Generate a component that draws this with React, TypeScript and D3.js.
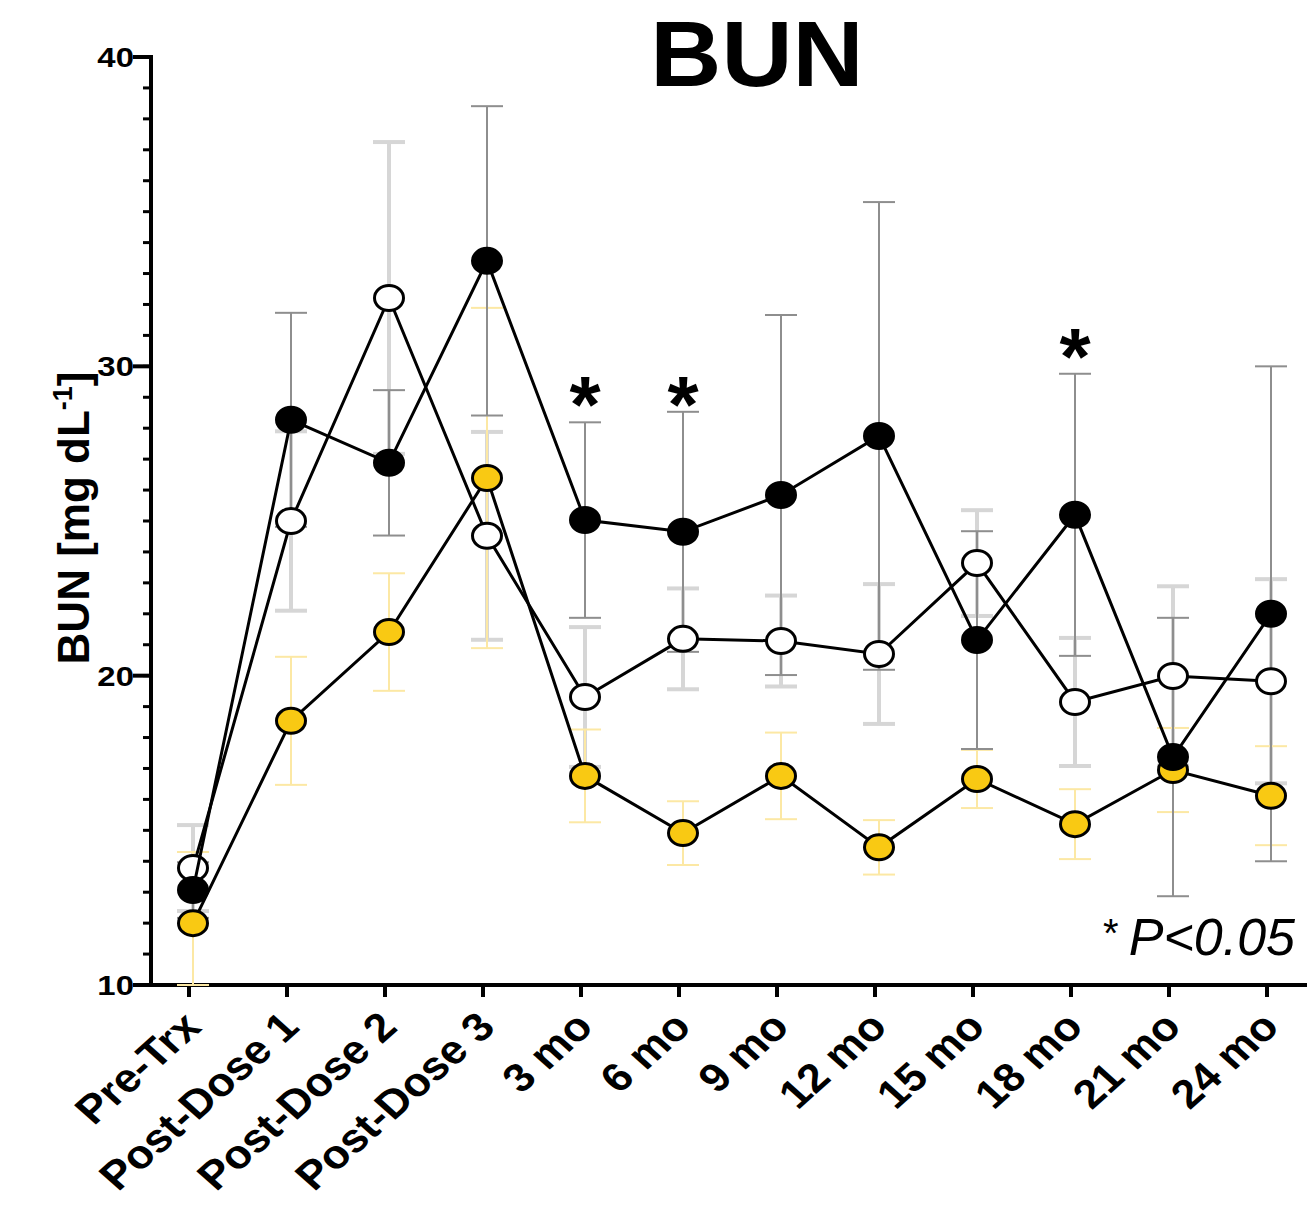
import React from 'react';
import * as d3 from 'd3';

// time points on the x axis
const categories = [
  'Pre-Trx', 'Post-Dose 1', 'Post-Dose 2', 'Post-Dose 3',
  '3 mo', '6 mo', '9 mo', '12 mo', '15 mo', '18 mo', '21 mo', '24 mo',
];

// filled black circles
const blackMean = [13.07, 28.27, 26.88, 33.41, 25.03, 24.65, 25.84, 27.75, 21.15, 25.2, 17.37, 22.0];
const blackSD = [0.9, 3.46, 2.35, 5.0, 3.16, 3.88, 5.82, 7.56, 3.52, 4.56, 4.5, 8.0];

// open circles
const whiteMean = [13.78, 25.0, 32.21, 24.52, 19.31, 21.19, 21.12, 20.7, 23.64, 19.15, 19.99, 19.82];
const whiteSD = [1.39, 2.9, 5.04, 3.36, 2.26, 1.63, 1.47, 2.26, 1.71, 2.07, 2.9, 3.3];

// yellow circles
const yellowMean = [12.0, 18.54, 21.41, 26.39, 16.76, 14.91, 16.76, 14.45, 16.66, 15.2, 16.95, 16.12];
const yellowSD = [2.3, 2.07, 1.9, 5.5, 1.5, 1.03, 1.4, 0.88, 0.94, 1.13, 1.36, 1.6];

// significance stars (category, level of the star's bottom)
const starCats = ['3 mo', '6 mo', '18 mo'];
const starLevels = [28.85, 28.85, 30.4];

const yMajor = [10, 20, 30, 40];

const FONT = "'Liberation Sans', Arial, Helvetica, sans-serif";

export default function App() {
  const x = d3.scalePoint<string>().domain(categories).range([193, 1271]);
  const y = d3.scaleLinear().domain([10, 40]).range([985, 57]);
  const yMinor = d3.range(10, 41, 1);

  const line = d3.line<number>()
    .x((_, i) => x(categories[i]) as number)
    .y((d) => y(d));

  const errSeries = [
    { mean: whiteMean, sd: whiteSD, color: '#d6d6d6', w: 4 },
    { mean: yellowMean, sd: yellowSD, color: '#fce8a4', w: 2 },
    { mean: blackMean, sd: blackSD, color: '#8e8e8e', w: 2 },
  ];
  const dotSeries = [
    { mean: yellowMean, fill: '#f9c913' },
    { mean: whiteMean, fill: '#ffffff' },
    { mean: blackMean, fill: '#000000' },
  ];

  const axisX = 151;
  const baseY = y(10);
  const capHalf = 16;

  return (
    <svg width={1307} height={1206} style={{ position: 'absolute', left: 0, top: 0, background: '#fff' }} fontFamily={FONT}>
      {/* title */}
      <text transform="translate(757,86) scale(1.07,1)" textAnchor="middle" fontSize={92} fontWeight="bold">BUN</text>

      {/* y axis */}
      <line x1={axisX} x2={axisX} y1={y(40) - 2} y2={baseY + 2} stroke="#000" strokeWidth={4} />
      {yMinor.map((t) => (
        <line key={'mi' + t} x1={axisX - 8} x2={axisX} y1={y(t)} y2={y(t)} stroke="#000" strokeWidth={3} />
      ))}
      {yMajor.map((t) => (
        <g key={'ma' + t}>
          <line x1={axisX - 18} x2={axisX} y1={y(t)} y2={y(t)} stroke="#000" strokeWidth={4} />
          <text transform={`translate(134,${y(t) + 10}) scale(1.22,1)`} textAnchor="end" fontSize={27} fontWeight="bold">{t}</text>
        </g>
      ))}
      <text transform={`translate(89,518) rotate(-90)`} textAnchor="middle" fontSize={44} fontWeight="bold">
        BUN [mg dL<tspan dy={-17} fontSize={27}>-1</tspan><tspan dy={17}>]</tspan>
      </text>

      {/* x axis */}
      <line x1={axisX - 2} x2={1307} y1={baseY} y2={baseY} stroke="#000" strokeWidth={4} />
      {categories.map((c) => (
        <g key={'xt' + c}>
          <line x1={(x(c) as number) - 4} x2={(x(c) as number) - 4} y1={baseY} y2={baseY + 12} stroke="#000" strokeWidth={4} />
          <text
            transform={`translate(${(x(c) as number) + 10},1029) scale(1.12,1) rotate(-45)`}
            textAnchor="end"
            fontSize={40}
            fontWeight="bold"
          >{c}</text>
        </g>
      ))}

      {/* error bars */}
      {errSeries.map((s, si) => (
        <g key={'err' + si} stroke={s.color} strokeWidth={s.w}>
          {categories.map((c, i) => {
            const cx = x(c) as number;
            const hi = y(Math.min(s.mean[i] + s.sd[i], 40));
            const lo = y(Math.max(s.mean[i] - s.sd[i], 10));
            return (
              <g key={c}>
                <line x1={cx} x2={cx} y1={hi} y2={lo} />
                <line x1={cx - capHalf} x2={cx + capHalf} y1={hi} y2={hi} />
                <line x1={cx - capHalf} x2={cx + capHalf} y1={lo} y2={lo} />
              </g>
            );
          })}
        </g>
      ))}

      {/* lines + markers */}
      {dotSeries.map((s, si) => (
        <g key={'dot' + si}>
          <path d={line(s.mean) || ''} fill="none" stroke="#000" strokeWidth={3} />
          {s.mean.map((v, i) => (
            <ellipse key={i} cx={x(categories[i]) as number} cy={y(v)} rx={14.5} ry={12.5} fill={s.fill} stroke="#000" strokeWidth={3} />
          ))}
        </g>
      ))}

      {/* stars */}
      {starCats.map((c, i) => (
        <text key={'st' + c} x={x(c) as number} y={y(starLevels[i]) + 30} textAnchor="middle" fontSize={80} fontWeight="bold">*</text>
      ))}

      {/* p value note */}
      <text x={1103} y={947} fontSize={40}>*</text>
      <text x={1295} y={955} textAnchor="end" fontSize={52} fontStyle="italic">P&lt;0.05</text>
    </svg>
  );
}
